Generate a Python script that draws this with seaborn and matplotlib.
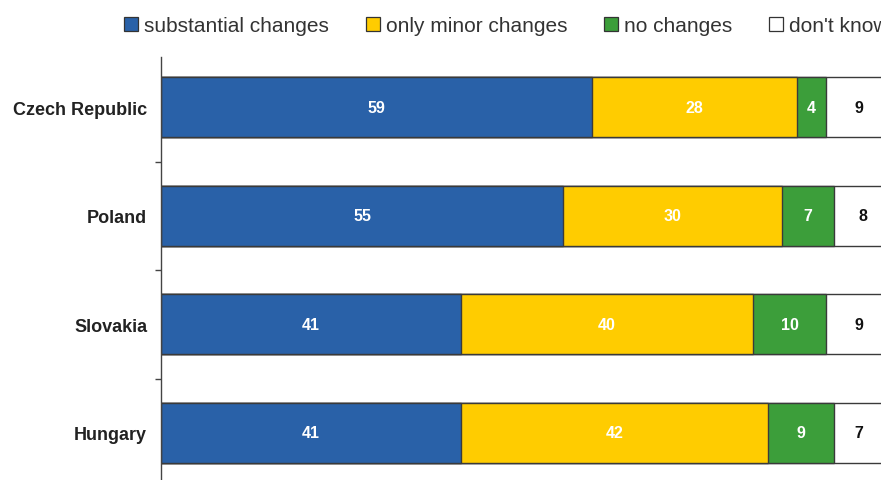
import matplotlib
matplotlib.use("Agg")
import matplotlib.pyplot as plt
from matplotlib.patches import Patch
import numpy as np
import pandas as pd
import seaborn as sns

countries = ["Czech Republic", "Poland", "Slovakia", "Hungary"]
substantial = [59, 55, 41, 41]
minor = [28, 30, 40, 42]
no_change = [4, 7, 10, 9]
dont_know = [9, 8, 9, 7]

series_names = ["substantial changes", "only minor changes", "no changes", "don't know"]
colors = ["#2961A8", "#FFCC00", "#3C9E3A", "#FFFFFF"]
text_colors = ["white", "white", "white", "#111111"]

sns.set_theme(style="white")
plt.rcParams["font.family"] = ["Liberation Sans", "DejaVu Sans"]

fig = plt.figure(figsize=(8.81, 4.81), dpi=100)
ax = fig.add_axes([161 / 881, 1 - 488 / 481, (892 - 161) / 881, (488 - 54) / 481])

values = np.array([substantial, minor, no_change, dont_know], dtype=float)
cum = np.cumsum(values, axis=0)
df = pd.DataFrame({"country": countries})

# stacked bars: draw the running totals from the largest down so each segment shows
for i in range(len(series_names) - 1, -1, -1):
    df["v"] = cum[i]
    sns.barplot(data=df, x="v", y="country", orient="h", color=colors[i],
                saturation=1, width=0.55, edgecolor="#3a3a3a", linewidth=1.0, ax=ax)

for i in range(len(series_names)):
    starts = cum[i] - values[i]
    for j, v in enumerate(values[i]):
        ax.text(starts[j] + v / 2, j, f"{int(v)}", ha="center", va="center",
                color=text_colors[i], fontsize=11.5, fontweight="bold")

ax.set_xlim(0, 100)
ax.set_ylim(3.5, -0.5)
ax.set_xlabel("")
ax.set_ylabel("")
ax.set_xticks([])
ax.set_yticks(range(len(countries)))
ax.set_yticklabels(countries, fontsize=13, fontweight="bold", color="#222222")
ax.set_yticks([0.5, 1.5, 2.5], minor=True)
ax.tick_params(axis="y", which="major", length=0, pad=10)
ax.tick_params(axis="y", which="minor", left=True, length=4, width=1, color="#444444", direction="out")
for s in ["top", "right", "bottom"]:
    ax.spines[s].set_visible(False)
ax.spines["left"].set_color("#444444")
ax.spines["left"].set_linewidth(1.0)
ax.spines["left"].set_bounds(-0.46, 3.5)

handles = [Patch(facecolor=c, edgecolor="#333333", linewidth=0.9) for c in colors]
fig.legend(handles, series_names, loc="center left", bbox_to_anchor=(124 / 881, 1 - 27 / 481),
           ncol=4, frameon=False, fontsize=15, handlelength=0.67, handleheight=0.67,
           handletextpad=0.3, columnspacing=1.75, borderaxespad=0, borderpad=0,
           labelcolor="#333333")

fig.savefig("out.png", dpi=100)
